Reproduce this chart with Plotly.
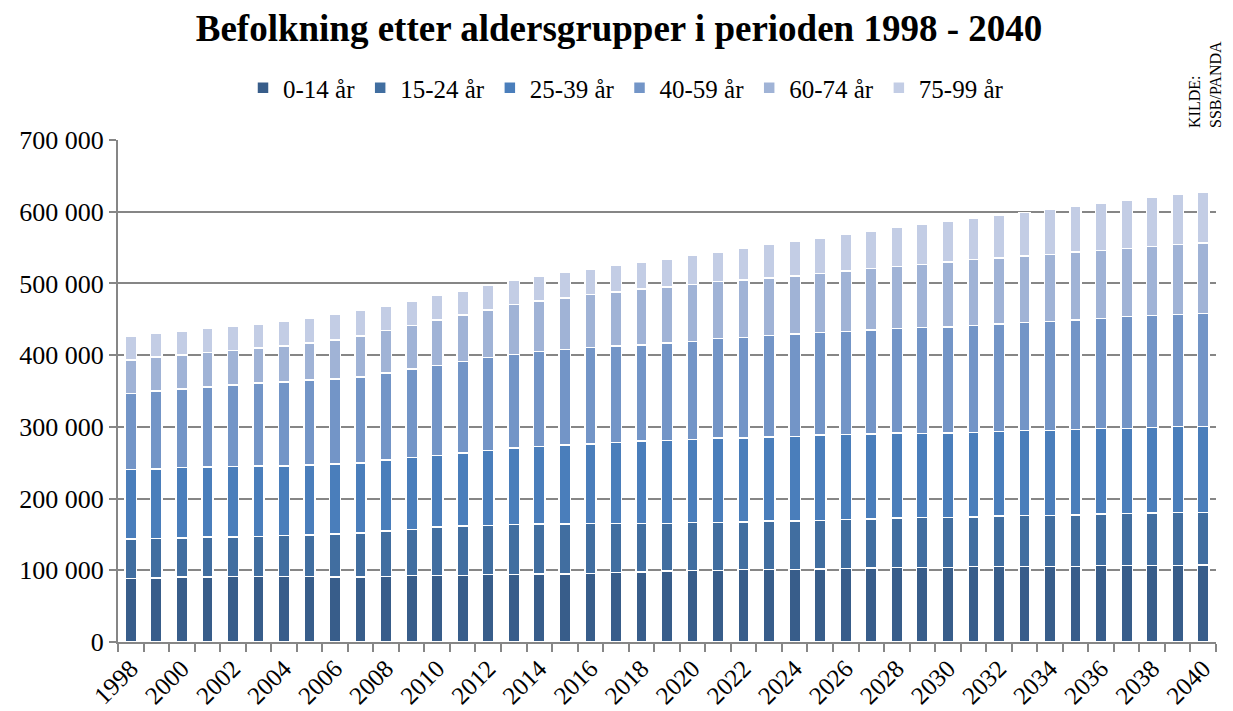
import plotly.graph_objects as go

years = list(range(1998, 2041))
groups = ["0-14 år", "15-24 år", "25-39 år", "40-59 år", "60-74 år", "75-99 år"]

age_0_14 = [88400, 89300, 90700, 90700, 91200, 91200, 91200, 91200, 90700, 90700,
            91600, 93000, 93000, 93000, 94400, 94400, 94900, 94900, 95800, 97200,
            97700, 98900, 99400, 99800, 100800, 101200, 101200, 101700, 102600, 103100,
            104000, 103600, 103700, 105000, 105000, 105000, 105500, 105500, 106400, 106400,
            106900, 106900, 107400]
age_15_24 = [55300, 54900, 54400, 55800, 55300, 56200, 57600, 58100, 60000, 61400,
             63200, 64100, 67300, 68700, 68200, 69600, 69600, 69600, 69200, 67800,
             67300, 66400, 66900, 66900, 66400, 67400, 67400, 67800, 68300, 68300,
             68800, 69700, 69700, 69300, 70700, 71200, 71100, 71600, 72100, 73000,
             73000, 73900, 73400]
age_25_39 = [96800, 97200, 98100, 97200, 98100, 98200, 96800, 97700, 97200, 97700,
             98800, 100200, 99800, 101600, 104400, 106300, 108100, 110000, 110900, 113200,
             115000, 115700, 116100, 117500, 117000, 117500, 117900, 118900, 118400, 118900,
             118400, 117600, 118000, 118100, 118100, 118900, 118500, 119400, 119000, 118500,
             119000, 119500, 119900]
age_40_59 = [106000, 108400, 109300, 111600, 113500, 115800, 117200, 118100, 119100, 120000,
             121600, 123400, 125300, 127600, 129500, 130400, 132200, 133100, 134500, 134500,
             134100, 135600, 136900, 138900, 140700, 141100, 143100, 143000, 143500, 144800,
             146300, 147500, 147800, 149200, 149600, 150200, 151600, 152500, 153800, 155700,
             156600, 156600, 157600]
age_60_74 = [47000, 47400, 48000, 48400, 48400, 48400, 50200, 52100, 53900, 57200,
             59300, 60800, 63500, 65000, 66800, 69600, 71000, 72400, 74300, 75700,
             78000, 78500, 79500, 79400, 79900, 80400, 80800, 82700, 84500, 86000,
             85900, 88000, 90700, 91500, 92000, 92900, 93900, 94800, 94800, 95300,
             96200, 97100, 98100]
age_75_99 = [33500, 33000, 33500, 33500, 33900, 33900, 34000, 34800, 36100, 35000,
             33900, 34300, 34400, 32900, 33900, 34300, 34400, 35300, 35200, 36600,
             37100, 39000, 40400, 41300, 44100, 46400, 48300, 49200, 51100, 52000,
             54300, 55500, 56200, 57700, 60000, 60900, 62700, 63700, 65100, 66500,
             67900, 69800, 70600]

series = [age_0_14, age_15_24, age_25_39, age_40_59, age_60_74, age_75_99]
colors = ["#385D8A", "#416EA0", "#4A7EBB", "#7395C7", "#A0B3D6", "#C3CDE5"]

tick_years = [y for y in years if y % 2 == 0]

serif = "Liberation Serif"

L, R, T, B = 118, 17, 140, 69
PW, PH = 1233 - L - R, 711 - T - B


def px_x(p):
    return (p - L) / PW


def px_y(p):
    return (711 - B - p) / PH


fig = go.Figure()
for name, vals, col in zip(groups, series, colors):
    fig.add_trace(go.Bar(
        x=years, y=vals, name=name,
        marker=dict(color=col, line=dict(color="white", width=1.5)),
        width=0.44,
    ))

fig.update_layout(
    barmode="stack",
    width=1233, height=711,
    paper_bgcolor="white", plot_bgcolor="white",
    separators=", ",
    margin=dict(l=L, r=R, t=T, b=B, autoexpand=False),
    font=dict(family=serif, size=26, color="black"),
    title=dict(text="<b>Befolkning etter aldersgrupper i perioden 1998 - 2040</b>",
               x=619 / 1233, xanchor="center", y=1 - 28 / 711, yanchor="middle",
               font=dict(family=serif, size=37, color="black")),
    legend=dict(orientation="h", x=px_x(626), xanchor="center", y=px_y(88), yanchor="middle",
                traceorder="normal", font=dict(family=serif, size=25, color="black"),
                itemwidth=30),
)

fig.update_xaxes(
    range=[1997.5, 2040.5], automargin=False,
    tickmode="array", tickvals=tick_years, ticktext=[str(y) for y in tick_years],
    tickangle=-45, ticks="", showgrid=False,
    showline=True, linecolor="#868686", linewidth=2,
    tickfont=dict(family=serif, size=25, color="black"),
    minor=dict(tickmode="linear", tick0=1997.5, dtick=1, ticks="outside",
               ticklen=8, tickcolor="#868686", tickwidth=2, showgrid=False),
)

fig.update_yaxes(
    range=[0, 700000], dtick=100000, tickformat=",d", automargin=False,
    showgrid=True, gridcolor="#868686", gridwidth=2,
    showline=True, linecolor="#868686", linewidth=2,
    ticks="outside", ticklen=7, tickcolor="#868686", tickwidth=2,
    tickfont=dict(family=serif, size=26, color="black"),
    zeroline=False,
)

fig.add_annotation(
    text="KILDE:<br>SSB/PANDA", textangle=-90, align="left",
    xref="paper", yref="paper",
    x=px_x(1205), y=px_y(85),
    xanchor="center", yanchor="middle", showarrow=False,
    font=dict(family=serif, size=16, color="black"),
)

fig.write_html("out.html",
               config={"displayModeBar": False},
               post_script="document.body.style.margin='0';document.body.style.overflow='hidden';")
